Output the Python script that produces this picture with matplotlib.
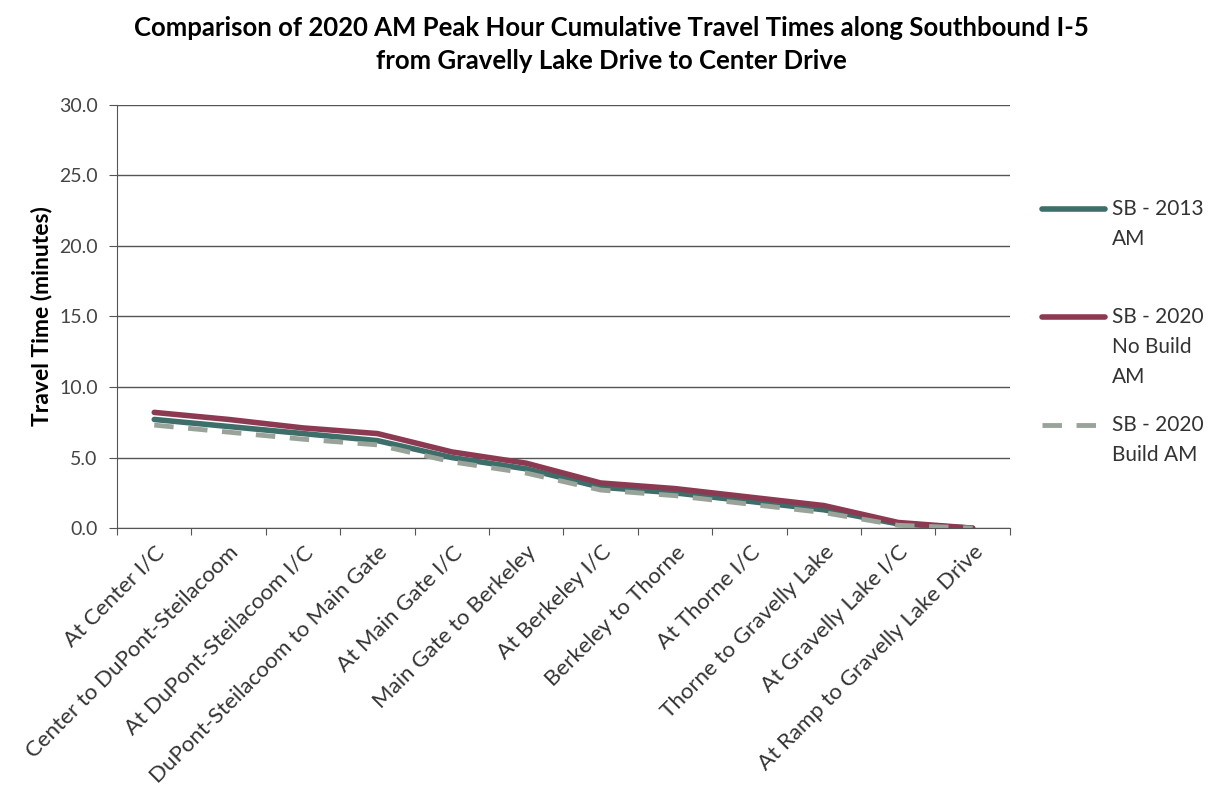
import matplotlib
matplotlib.use("Agg")
from matplotlib import pyplot as plt
from matplotlib.lines import Line2D

# Segments along southbound I-5
categories = ["At Center I/C", "Center to DuPont-Steilacoom", "At DuPont-Steilacoom I/C",
              "DuPont-Steilacoom to Main Gate", "At Main Gate I/C", "Main Gate to Berkeley",
              "At Berkeley I/C", "Berkeley to Thorne", "At Thorne I/C", "Thorne to Gravelly Lake",
              "At Gravelly Lake I/C", "At Ramp to Gravelly Lake Drive"]

# Cumulative travel times (minutes)
sb_2013 = [7.7, 7.2, 6.7, 6.2, 5.0, 4.2, 2.9, 2.5, 1.9, 1.3, 0.3, 0.0]
sb_2020_nobuild = [8.2, 7.7, 7.1, 6.7, 5.4, 4.6, 3.2, 2.8, 2.2, 1.6, 0.4, 0.0]
sb_2020_build = [7.3, 6.8, 6.3, 5.9, 4.7, 3.9, 2.7, 2.3, 1.7, 1.1, 0.2, 0.0]

series_names = [["SB - 2013", "AM"], ["SB - 2020", "No Build", "AM"], ["SB - 2020", "Build AM"]]

plt.rcParams['font.family'] = ['Lato', 'DejaVu Sans']

fig = plt.figure(figsize=(12.23, 7.93), dpi=100)
ax = fig.add_axes([0.0957, 0.334, 0.730, 0.534])

x = range(len(categories))
styles = [dict(color='#3d6e6a', lw=4, solid_capstyle='round'),
          dict(color='#8c3a52', lw=4, solid_capstyle='round'),
          dict(color='#9aa39a', lw=3.5, ls=(0, (4, 3)))]
for vals, st in zip([sb_2013, sb_2020_nobuild, sb_2020_build], styles):
    ax.plot(x, vals, **st)

ax.set_ylim(0, 30)
yt = [0, 5, 10, 15, 20, 25, 30]
ax.set_yticks(yt)
ax.set_yticklabels(["%.1f" % v for v in yt], fontsize=14, color='#444444')
ax.yaxis.grid(True, color='#555555', lw=1)
ax.set_axisbelow(True)

ax.set_xlim(-0.5, len(categories) - 0.5)
ax.set_xticks([i - 0.5 for i in range(len(categories) + 1)])
ax.set_xticklabels([])
ax.set_xticks(list(x), minor=True)
ax.set_xticklabels(categories, minor=True, rotation=45, ha='right',
                   rotation_mode='anchor', fontsize=16, color='#333333')
ax.tick_params(axis='x', which='minor', length=0, pad=10)
ax.tick_params(axis='x', which='major', length=5, color='#555555')
ax.tick_params(axis='y', length=6, color='#555555', pad=8)

for s in ['top', 'right']:
    ax.spines[s].set_visible(False)
for s in ['left', 'bottom']:
    ax.spines[s].set_color('#555555')

ax.set_ylabel("Travel Time (minutes)", fontsize=16.5, fontweight='bold', labelpad=5)

fig.suptitle("Comparison of 2020 AM Peak Hour Cumulative Travel Times along Southbound I-5\n"
             "from Gravelly Lake Drive to Center Drive",
             fontsize=18.5, fontweight='bold', y=0.98, x=0.50, linespacing=1.45)

# legend drawn by hand so the handle sits on the first text line
H, W = 793.0, 1223.0
for i, (names, st) in enumerate(zip(series_names, styles)):
    y0 = 209 + 108 * i
    fig.add_artist(Line2D([1042 / W, 1105 / W], [1 - y0 / H, 1 - y0 / H],
                          transform=fig.transFigure, **st))
    for j, line in enumerate(names):
        fig.text(1112 / W, 1 - (y0 + 30 * j) / H, line, fontsize=15,
                 va='center', ha='left', color='#333333')

fig.savefig("out.png", dpi=100)
